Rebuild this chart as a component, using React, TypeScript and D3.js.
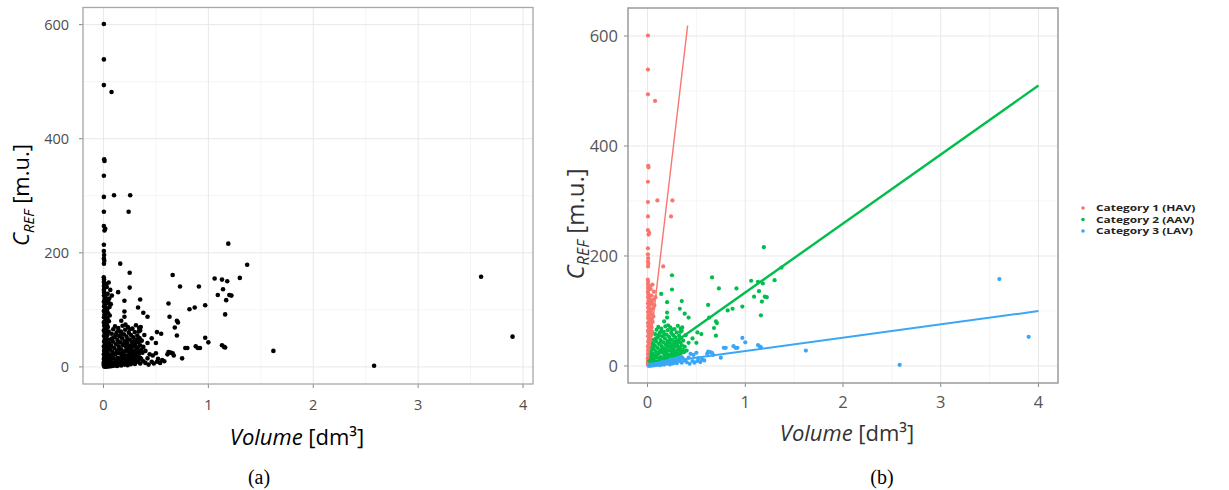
import React from "react";
import * as d3 from "d3";

type Pt = [number, number];

// volume [dm3], C_REF [m.u.] per category
const hav: Pt[] = [
  [0.004, 601], [0.004, 539], [0.004, 494], [0.077, 482], [0.007, 364], [0.01, 361], [0.004, 335],
  [0.004, 298], [0.101, 301], [0.255, 301], [0.004, 272], [0.24, 272], [0.004, 247], [0.01, 239],
  [0.017, 242], [0.004, 214], [0.004, 203], [0.006, 196], [0.004, 190], [0.008, 186], [0.005, 181],
  [0.16, 181], [0.003, 157], [0.006, 153], [0.004, 149], [0.009, 146], [0.005, 142], [0.012, 139],
  [0.004, 135], [0.007, 131], [0.015, 128], [0.005, 125], [0.02, 122], [0.01, 119], [0.028, 117],
  [0.004, 114], [0.035, 112], [0.012, 109], [0.006, 106], [0.022, 104], [0.015, 101], [0.004, 98],
  [0.03, 96], [0.045, 94], [0.009, 92], [0.018, 89], [0.005, 87], [0.038, 85], [0.025, 83],
  [0.012, 80], [0.004, 78], [0.055, 120], [0.065, 135], [0.07, 110], [0.06, 90], [0.08, 125],
  [0.05, 148], [0.02, 77], [0.033, 74], [0.007, 72], [0.042, 70], [0.015, 68], [0.027, 66],
  [0.004, 64], [0.05, 62], [0.01, 60], [0.022, 58], [0.038, 56], [0.005, 54], [0.018, 52],
  [0.03, 50], [0.012, 48], [0.042, 46], [0.006, 44], [0.025, 42], [0.015, 40], [0.035, 38],
  [0.004, 36], [0.02, 34], [0.01, 32], [0.03, 30], [0.006, 28], [0.016, 26], [0.024, 24],
  [0.004, 22], [0.012, 20], [0.018, 18], [0.007, 16], [0.004, 14], [0.013, 12], [0.008, 10],
  [0.004, 8], [0.006, 6], [0.003, 4], [0.005, 2], [0.032, 140], [0.04, 128], [0.058, 105],
  [0.045, 115], [0.025, 145], [0.035, 100], [0.052, 80], [0.04, 60],
];

const aav: Pt[] = [
  [0.25, 165], [0.25, 139], [0.14, 131], [0.2, 116], [0.35, 118], [0.33, 104], [0.38, 95],
  [0.42, 88], [0.2, 97], [0.2, 88], [0.17, 81], [0.21, 74], [0.34, 68], [0.35, 64], [0.25, 66],
  [0.14, 63], [0.66, 161], [0.73, 141], [0.91, 141], [1.06, 155], [1.19, 216], [1.3, 156],
  [1.37, 179], [1.13, 153], [1.18, 150], [1.09, 126], [1.14, 136], [1.2, 126], [1.22, 125],
  [1.17, 117], [1.16, 92], [0.97, 108], [0.87, 104], [0.82, 101], [0.62, 111], [0.63, 88],
  [0.7, 81], [0.71, 78], [0.68, 69], [0.7, 55], [0.51, 61], [0.5, 42], [0.42, 42], [0.46, 50],
  [0.55, 58],
  [0.021, 14], [0.026, 20], [0.032, 9], [0.035, 26], [0.041, 17], [0.044, 33], [0.048, 6],
  [0.052, 22], [0.055, 41], [0.061, 13], [0.064, 30], [0.067, 48], [0.072, 19], [0.075, 37],
  [0.078, 58], [0.083, 8], [0.086, 26], [0.09, 44], [0.093, 66], [0.098, 15], [0.102, 33],
  [0.105, 52], [0.11, 71], [0.113, 22], [0.118, 40], [0.121, 10], [0.125, 60], [0.129, 29],
  [0.133, 47], [0.137, 16], [0.141, 68], [0.145, 36], [0.149, 54], [0.153, 24], [0.158, 12],
  [0.162, 43], [0.166, 62], [0.17, 31], [0.174, 19], [0.178, 50], [0.182, 72], [0.186, 38],
  [0.19, 14], [0.195, 57], [0.199, 27], [0.203, 45], [0.207, 65], [0.212, 20], [0.216, 35],
  [0.22, 53], [0.225, 16], [0.229, 42], [0.233, 70], [0.237, 29], [0.242, 60], [0.246, 23],
  [0.25, 48], [0.255, 37], [0.259, 18], [0.263, 56], [0.268, 31], [0.272, 44], [0.276, 67],
  [0.28, 25], [0.285, 52], [0.289, 36], [0.293, 20], [0.298, 61], [0.302, 41], [0.306, 29],
  [0.31, 73], [0.315, 47], [0.319, 23], [0.323, 55], [0.327, 34], [0.332, 43], [0.336, 62],
  [0.34, 26], [0.345, 50], [0.35, 38], [0.355, 70], [0.36, 30], [0.365, 46], [0.372, 25],
  [0.38, 35], [0.39, 56], [0.4, 28], [0.058, 10], [0.08, 15], [0.115, 8], [0.13, 11],
  [0.145, 14], [0.16, 10], [0.175, 13], [0.19, 22], [0.205, 15], [0.22, 17], [0.235, 20],
  [0.25, 16], [0.265, 21], [0.28, 18], [0.3, 19], [0.32, 21], [0.34, 23], [0.125, 25],
  [0.14, 44], [0.155, 30], [0.17, 57], [0.185, 26], [0.2, 40], [0.215, 28], [0.23, 48],
  [0.245, 33], [0.26, 27], [0.275, 39], [0.29, 45], [0.305, 37], [0.32, 30], [0.335, 51],
  [0.06, 36], [0.085, 50], [0.1, 23], [0.115, 56], [0.045, 12], [0.038, 20], [0.03, 16],
  [0.024, 8],
];

const lav: Pt[] = [
  [3.6, 158], [3.9, 53], [2.58, 2], [1.62, 28], [0.97, 51], [1.0, 43], [0.88, 36], [0.9, 33],
  [0.92, 33], [0.78, 33], [0.8, 33], [1.13, 38], [1.15, 35], [1.16, 34], [0.62, 26], [0.64, 25],
  [0.66, 24], [0.61, 22], [0.67, 20], [0.75, 15], [0.46, 9], [0.51, 9], [0.56, 12], [0.58, 10],
  [0.44, 22], [0.47, 20], [0.5, 24],
  [0.01, 0.3], [0.02, 0.8], [0.03, 0.5], [0.04, 1.5], [0.05, 0.8], [0.06, 2.2], [0.07, 1.2],
  [0.08, 3], [0.09, 1.8], [0.1, 4], [0.11, 2.5], [0.12, 5], [0.13, 1.5], [0.14, 6], [0.15, 3.5],
  [0.16, 7], [0.17, 2.5], [0.18, 5.5], [0.19, 8], [0.2, 4], [0.21, 9], [0.22, 6], [0.23, 3],
  [0.24, 10], [0.25, 7], [0.26, 4.5], [0.27, 11], [0.28, 8], [0.3, 5], [0.31, 12], [0.33, 9],
  [0.35, 6], [0.36, 14], [0.38, 10], [0.4, 7], [0.42, 15], [0.43, 4], [0.48, 6], [0.52, 14],
  [0.54, 7], [0.35, 16], [0.32, 15], [0.28, 13], [0.24, 12],
];

const categories = ["Category 1 (HAV)", "Category 2 (AAV)", "Category 3 (LAV)"];
const colors = ["#F8766D", "#00BE4C", "#3AA6F7"];
const series = [hav, aav, lav];

// fitted lines per category: slope, intercept, volume range
const fitSlope = [1510, 125.5, 24.2];
const fitIntercept = [0, 8, 3];
const fitRange: Pt[] = [[0, 0.41], [0, 4], [0, 4]];
const lineWidths = [1.4, 2.4, 2];

const xTicks = [0, 1, 2, 3, 4];
const xMinor = [0.5, 1.5, 2.5, 3.5];
const yTicks = [0, 200, 400, 600];
const yMinor = [100, 300, 500];

const font = "'Open Sans', sans-serif";

function Frame({ x, y, tickSize, labelRight, labelBaseline, color }: any) {
  const [x0, x1] = x.range();
  const [y0, y1] = y.range();
  return (
    <g>
      {xMinor.map((t) => (
        <line key={"xm" + t} x1={x(t)} x2={x(t)} y1={y0} y2={y1} stroke="#f3f3f3" strokeWidth={0.8} />
      ))}
      {yMinor.map((t) => (
        <line key={"ym" + t} x1={x0} x2={x1} y1={y(t)} y2={y(t)} stroke="#f3f3f3" strokeWidth={0.8} />
      ))}
      {xTicks.map((t) => (
        <line key={"xg" + t} x1={x(t)} x2={x(t)} y1={y0} y2={y1} stroke="#e8e8e8" strokeWidth={1} />
      ))}
      {yTicks.map((t) => (
        <line key={"yg" + t} x1={x0} x2={x1} y1={y(t)} y2={y(t)} stroke="#e8e8e8" strokeWidth={1} />
      ))}
      {xTicks.map((t) => (
        <g key={"xt" + t}>
          <line x1={x(t)} x2={x(t)} y1={y0} y2={y0 + 4} stroke="#888" strokeWidth={1} />
          <text x={x(t)} y={labelBaseline} textAnchor="middle" fontFamily={font} fontSize={tickSize} fill={color}>
            {t}
          </text>
        </g>
      ))}
      {yTicks.map((t) => (
        <g key={"yt" + t}>
          <line x1={x0 - 4} x2={x0} y1={y(t)} y2={y(t)} stroke="#888" strokeWidth={1} />
          <text x={labelRight} y={y(t)} dy="0.35em" textAnchor="end" fontFamily={font} fontSize={tickSize} fill={color}>
            {t}
          </text>
        </g>
      ))}
    </g>
  );
}

function YTitle({ x, y, size, color }: any) {
  return (
    <text transform={`translate(${x},${y}) rotate(-90)`} textAnchor="middle" fontFamily={font} fontSize={size} fill={color}>
      <tspan fontStyle="italic">C</tspan>
      <tspan fontStyle="italic" fontSize={size * 0.68} dy={size * 0.22}>REF</tspan>
      <tspan dy={-size * 0.22}> [m.u.]</tspan>
    </text>
  );
}

function XTitle({ x, y, size, color }: any) {
  return (
    <text x={x} y={y} textAnchor="middle" fontFamily={font} fontSize={size} fill={color}>
      <tspan fontStyle="italic">Volume</tspan>
      <tspan> [dm³]</tspan>
    </text>
  );
}

export default function App() {
  const xa = d3.scaleLinear().domain([-0.195, 4.095]).range([83, 533]);
  const ya = d3.scaleLinear().domain([-30, 630]).range([384, 7.5]);
  const xb = d3.scaleLinear().domain([-0.2, 4.2]).range([628, 1058]);
  const yb = d3.scaleLinear().domain([-31, 651]).range([383, 8]);

  const all = series.flat();

  return (
    <svg width={1229} height={490} style={{ position: "absolute", left: 0, top: 0, background: "#fff" }}>
      {/* panel (a) */}
      <Frame x={xa} y={ya} tickSize={14.5} labelRight={69} labelBaseline={410} color="#4d4d4d" />
      <g>
        {all.map((d, i) => (
          <circle key={i} cx={xa(d[0])} cy={ya(d[1])} r={2.3} fill="#000" />
        ))}
      </g>
      <rect x={83} y={7.5} width={450} height={376.5} fill="none" stroke="#a6a6a6" strokeWidth={1.3} />
      <YTitle x={29} y={195} size={22} color="#000" />
      <XTitle x={297} y={445} size={22} color="#000" />
      <text x={259} y={484} textAnchor="middle" fontFamily="'Liberation Serif', serif" fontSize={20}>
        (a)
      </text>

      {/* panel (b) */}
      <Frame x={xb} y={yb} tickSize={16.5} labelRight={618} labelBaseline={408} color="#555" />
      {series.map((s, k) => (
        <g key={"s" + k}>
          {s.map((d, i) => (
            <circle key={i} cx={xb(d[0])} cy={yb(d[1])} r={2.1} fill={colors[k]} />
          ))}
        </g>
      ))}
      {fitSlope.map((m, k) => {
        const line = d3
          .line<number>()
          .x((v) => xb(v))
          .y((v) => yb(m * v + fitIntercept[k]));
        return <path key={"f" + k} d={line(fitRange[k]) || ""} fill="none" stroke={colors[k]} strokeWidth={lineWidths[k]} />;
      })}
      <rect x={628} y={8} width={430} height={375} fill="none" stroke="#9a9a9a" strokeWidth={1.5} />
      <YTitle x={584} y={224} size={24} color="#333" />
      <XTitle x={847} y={441} size={22} color="#333" />
      <text x={882} y={484} textAnchor="middle" fontFamily="'Liberation Serif', serif" fontSize={20}>
        (b)
      </text>

      {/* legend */}
      {categories.map((c, k) => (
        <g key={c} transform={`translate(1083,${211 + k * 11.5})`}>
          <circle cx={0} cy={-3} r={1.8} fill={colors[k]} />
          <text x={13} y={0} transform="scale(1.4,1)" transform-origin="13 0" fontFamily={font} fontSize={8.5} fontWeight="bold" fill="#222">
            {c}
          </text>
        </g>
      ))}
    </svg>
  );
}
